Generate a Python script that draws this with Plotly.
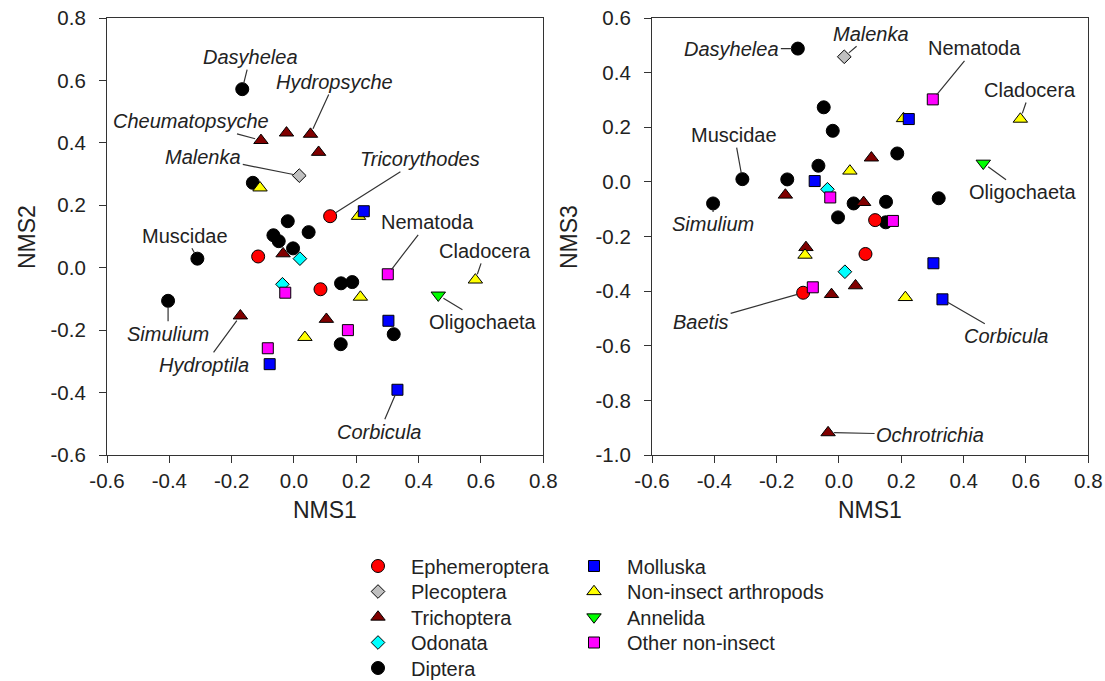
import plotly.graph_objects as go

# ---- NMS scores per taxon group: axis 1, axis 2, axis 3 ----
ephemeroptera_nms1 = [0.116, 0.085, -0.115]
ephemeroptera_nms2 = [0.165, -0.069, 0.036]
ephemeroptera_nms3 = [-0.140, -0.264, -0.406]

plecoptera_nms1 = [0.017]
plecoptera_nms2 = [0.295]
plecoptera_nms3 = [0.458]

trichoptera_nms1 = [-0.172, -0.106, -0.024, 0.053, 0.079, -0.035, 0.104]
trichoptera_nms2 = [-0.154, 0.408, 0.432, 0.428, 0.370, 0.045, -0.165]
trichoptera_nms3 = [-0.048, -0.240, -0.412, -0.380, -0.075, -0.918, 0.088]

odonata_nms1 = [-0.037, 0.019]
odonata_nms2 = [-0.053, 0.029]
odonata_nms3 = [-0.027, -0.329]

diptera_nms1 = [-0.166, -0.132, -0.310, -0.404, -0.020, 0.047, -0.066,
                -0.049, -0.003, 0.151, 0.187, 0.320, 0.150]
diptera_nms2 = [0.572, 0.272, 0.029, -0.106, 0.149, 0.114, 0.104,
                0.085, 0.062, -0.050, -0.046, -0.213, -0.245]
diptera_nms3 = [0.009, 0.488, 0.010, -0.079, 0.187, -0.079, 0.059,
                0.273, -0.130, -0.073, 0.104, -0.060, -0.148]

molluska_nms1 = [0.224, 0.303, 0.332, -0.078]
molluska_nms2 = [0.181, -0.170, -0.391, -0.309]
molluska_nms3 = [0.230, -0.298, -0.430, 0.003]

arthropod_nms1 = [-0.109, 0.207, 0.213, 0.035, 0.582]
arthropod_nms2 = [0.256, 0.165, -0.094, -0.223, -0.039]
arthropod_nms3 = [-0.268, 0.232, -0.423, 0.040, 0.230]

annelida_nms1 = [0.463]
annelida_nms2 = [-0.088]
annelida_nms3 = [0.068]

other_nms1 = [0.301, -0.028, -0.084, 0.173]
other_nms2 = [-0.021, -0.080, -0.258, -0.200]
other_nms3 = [0.302, -0.057, -0.386, -0.143]

# tick labels
tick_vals_x = [-0.6, -0.4, -0.2, 0.0, 0.2, 0.4, 0.6, 0.8]
tick_text_x = ["-0.6", "-0.4", "-0.2", "0.0", "0.2", "0.4", "0.6", "0.8"]
tick_vals_y2 = [-0.6, -0.4, -0.2, 0.0, 0.2, 0.4, 0.6, 0.8]
tick_text_y2 = ["-0.6", "-0.4", "-0.2", "0.0", "0.2", "0.4", "0.6", "0.8"]
tick_vals_y3 = [-1.0, -0.8, -0.6, -0.4, -0.2, 0.0, 0.2, 0.4, 0.6]
tick_text_y3 = ["-1.0", "-0.8", "-0.6", "-0.4", "-0.2", "0.0", "0.2", "0.4", "0.6"]

groups = {
    "Ephemeroptera": (ephemeroptera_nms1, ephemeroptera_nms2, ephemeroptera_nms3),
    "Plecoptera": (plecoptera_nms1, plecoptera_nms2, plecoptera_nms3),
    "Trichoptera": (trichoptera_nms1, trichoptera_nms2, trichoptera_nms3),
    "Odonata": (odonata_nms1, odonata_nms2, odonata_nms3),
    "Diptera": (diptera_nms1, diptera_nms2, diptera_nms3),
    "Molluska": (molluska_nms1, molluska_nms2, molluska_nms3),
    "Non-insect arthropods": (arthropod_nms1, arthropod_nms2, arthropod_nms3),
    "Annelida": (annelida_nms1, annelida_nms2, annelida_nms3),
    "Other non-insect": (other_nms1, other_nms2, other_nms3),
}

# symbol, fill, size
styles = {
    "Ephemeroptera": ("circle", "#FF0000", 13),
    "Plecoptera": ("diamond", "#C0C0C0", 10.5),
    "Trichoptera": ("triangle-up", "#800000", 12.5),
    "Odonata": ("diamond", "#00FFFF", 10.5),
    "Diptera": ("circle", "#000000", 13),
    "Molluska": ("square", "#0000FF", 11),
    "Non-insect arthropods": ("triangle-up", "#FFFF00", 12.5),
    "Annelida": ("triangle-down", "#00FF00", 12.5),
    "Other non-insect": ("square", "#FF00FF", 11),
}
legend_order = list(groups.keys())
draw_order = ["Diptera", "Ephemeroptera", "Plecoptera", "Trichoptera", "Odonata",
              "Non-insect arthropods", "Molluska", "Annelida", "Other non-insect"]

FONT = "Liberation Sans, Arial, sans-serif"
INK = "#222222"
W, H = 1105, 681
TOP, BOTTOM = 18, 455


def px_x(p):
    return p / W


def px_y(p):
    return (BOTTOM - p) / (BOTTOM - TOP)


# each key entry gets its own legend box: two columns of rows
legend_ids = ["legend" if k == 0 else f"legend{k + 1}" for k in range(len(legend_order))]
col_left = [345, 561]
row_center = [566, 591.5, 617, 642.5, 668]

fig = go.Figure()
for name in draw_order:
    nms1, nms2, nms3 = groups[name]
    sym, col, size = styles[name]
    leg = legend_ids[legend_order.index(name)]
    marker = dict(symbol=sym, color=col, size=size,
                  line=dict(color="#000000", width=1))
    fig.add_trace(go.Scatter(
        x=nms1, y=nms2, mode="markers", name=name, marker=marker,
        xaxis="x", yaxis="y", legend=leg, legendgroup=name,
        showlegend=True, cliponaxis=False))
    fig.add_trace(go.Scatter(
        x=nms1, y=nms3, mode="markers", name=name, marker=marker,
        xaxis="x2", yaxis="y2", legend=leg, legendgroup=name,
        showlegend=False, cliponaxis=False))

# taxon labels: (text, group, index, offset x px, offset y px)
labels_axis2 = [
    ("<i>Dasyhelea</i>", "Diptera", 0, 8, -32),
    ("<i>Hydropsyche</i>", "Trichoptera", 3, 24, -52),
    ("<i>Cheumatopsyche</i>", "Trichoptera", 1, -70, -19),
    ("<i>Malenka</i>", "Plecoptera", 0, -96, -19),
    ("<i>Tricorythodes</i>", "Ephemeroptera", 0, 90, -57),
    ("Muscidae", "Diptera", 2, -12, -23),
    ("Nematoda", "Other non-insect", 0, 40, -52),
    ("Cladocera", "Non-insect arthropods", 4, 10, -29),
    ("Oligochaeta", "Annelida", 0, 45, 27),
    ("<i>Simulium</i>", "Diptera", 3, 0, 33),
    ("<i>Hydroptila</i>", "Trichoptera", 0, -36, 49),
    ("<i>Corbicula</i>", "Molluska", 2, -18, 42),
]
labels_axis3 = [
    ("<i>Dasyhelea</i>", "Diptera", 1, -66, 0),
    ("<i>Malenka</i>", "Plecoptera", 0, 27, -23),
    ("Nematoda", "Other non-insect", 0, 42, -51),
    ("Cladocera", "Non-insect arthropods", 4, 10, -29),
    ("Oligochaeta", "Annelida", 0, 40, 29),
    ("Muscidae", "Diptera", 2, -8, -44),
    ("<i>Simulium</i>", "Diptera", 3, 0, 21),
    ("<i>Baetis</i>", "Ephemeroptera", 2, -102, 29),
    ("<i>Corbicula</i>", "Molluska", 2, 64, 37),
    ("<i>Ochrotrichia</i>", "Trichoptera", 5, 102, 2),
]

annotations = []
for labels, yi, xr, yr in ((labels_axis2, 1, "x", "y"), (labels_axis3, 2, "x2", "y2")):
    for text, grp, i, ax, ay in labels:
        cols = groups[grp]
        annotations.append(dict(
            x=cols[0][i], y=cols[yi][i], xref=xr, yref=yr,
            text=text, showarrow=True, arrowhead=0, arrowwidth=1.2,
            arrowcolor="#333333", standoff=6, ax=ax, ay=ay,
            font=dict(family=FONT, size=20, color=INK)))

# axis titles
for text, x, y, ang in (("NMS2", 27, 237, -90), ("NMS3", 569, 237, -90),
                        ("NMS1", 325, 510, 0), ("NMS1", 870, 510, 0)):
    annotations.append(dict(
        x=px_x(x), y=px_y(y), xref="paper", yref="paper", text=text,
        showarrow=False, textangle=ang, xanchor="center", yanchor="middle",
        font=dict(family=FONT, size=23, color=INK)))

axis_common = dict(
    showline=True, mirror=True, linecolor="#333333", linewidth=1.2,
    showgrid=False, zeroline=False, ticks="outside", ticklen=7,
    tickcolor="#333333", tickwidth=1.2,
    tickfont=dict(family=FONT, size=20.5, color=INK), tickmode="array")

legends = {}
for k, name in enumerate(legend_order):
    col, row = (0, k) if k < 5 else (1, k - 5)
    legends[legend_ids[k]] = dict(
        x=px_x(col_left[col]), y=px_y(row_center[row]),
        xanchor="left", yanchor="middle",
        font=dict(family=FONT, size=20, color=INK), itemwidth=56,
        bgcolor="rgba(0,0,0,0)", borderwidth=0)

fig.update_layout(
    width=W, height=H,
    margin=dict(l=0, r=0, t=TOP, b=H - BOTTOM, pad=0, autoexpand=False),
    paper_bgcolor="white", plot_bgcolor="white",
    font=dict(family=FONT, color=INK),
    xaxis=dict(axis_common, domain=[107 / W, 543.3 / W], range=[-0.6, 0.8],
               tickvals=tick_vals_x, ticktext=tick_text_x, anchor="y"),
    yaxis=dict(axis_common, domain=[0, 1], range=[-0.6, 0.8],
               tickvals=tick_vals_y2, ticktext=tick_text_y2, anchor="x",
               ticklabelstandoff=9),
    xaxis2=dict(axis_common, domain=[652 / W, 1088.3 / W], range=[-0.6, 0.8],
                tickvals=tick_vals_x, ticktext=tick_text_x, anchor="y2"),
    yaxis2=dict(axis_common, domain=[0, 1], range=[-1.0, 0.6],
                tickvals=tick_vals_y3, ticktext=tick_text_y3, anchor="x2",
                ticklabelstandoff=9),
    annotations=annotations,
    showlegend=True,
    **legends,
)

fig.write_html("out.html")
